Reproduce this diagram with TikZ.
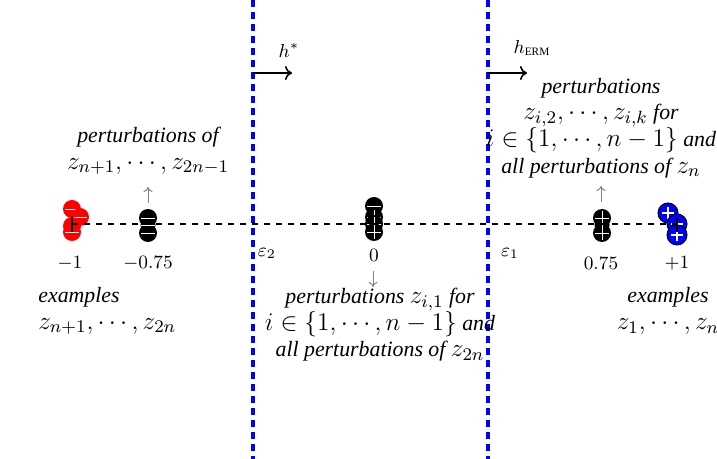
\documentclass[tikz,border=0pt]{standalone}
\usepackage{fix-cm}
\usepackage{fontspec}
\setmainfont{Liberation Serif}[Scale=0.86]
\usetikzlibrary{arrows.meta}
\newcommand\mydotneg[3]{%
  \fill[#3] (#1,#2) circle[radius=9];
  \draw[white,line width=0.45pt] (#1-7,#2) -- (#1+7,#2);}
\newcommand\mydotpos[3]{%
  \fill[#3] (#1,#2) circle[radius=9];
  \draw[white,line width=0.45pt] (#1-7,#2) -- (#1+7,#2) (#1,#2-7) -- (#1,#2+7);}
\newcommand\mydotblue[2]{%
  \filldraw[fill=blue,draw=black,line width=0.5pt] (#1,#2) circle[radius=10];
  \draw[white,line width=1.1pt] (#1-6,#2) -- (#1+6,#2) (#1,#2-6) -- (#1,#2+6);}
\begin{document}
\begin{tikzpicture}[x=0.5pt,y=-0.5pt,
  txt/.style={font=\fontsize{12.7}{13.3}\selectfont\itshape, align=center, inner sep=0pt},
  lbl/.style={font=\fontsize{9.4}{11}\selectfont, inner sep=0pt},
  vline/.style={blue, line width=1.65pt, dash pattern=on 3.5pt off 2.5pt},
  axisline/.style={black, line width=0.6pt, dash pattern=on 3.2pt off 2.8pt},
  garrow/.style={gray, line width=0.5pt, -{To[length=2.5pt,width=4.5pt]}},
  harrow/.style={black, line width=0.8pt, -{To[length=3.5pt,width=7pt]}}]
\useasboundingbox (0,0) rectangle (717,459);
% vertical dashed separators
\coordinate (s2t) at (253,0); \coordinate (s2b) at (253,459);
\coordinate (s1t) at (488,0); \coordinate (s1b) at (488,459);
\draw[vline] (s2t) -- (s2b);
\draw[vline] (s1t) -- (s1b);
% axis points
\coordinate (pm1) at (72,224);
\coordinate (pm075) at (148,224);
\coordinate (p0) at (374,224);
\coordinate (p075) at (602,224);
\coordinate (pp1) at (677,224);
% red cluster at -1
\mydotneg{72}{209}{red}
\mydotneg{80}{217}{red}
\mydotneg{72}{226}{red}
\mydotneg{72}{232}{red}
% black stack at -0.75
\fill (148,225) circle[radius=7.5];
\mydotneg{148}{218}{black}
\mydotneg{148}{233}{black}
\draw[white,line width=0.45pt] (141,225) -- (155,225);
% black stack at 0
\mydotneg{374}{206}{black}
\mydotpos{374}{217}{black}
\mydotpos{374}{224}{black}
\mydotpos{374}{232}{black}
% black stack at 0.75
\fill (602,225) circle[radius=7.5];
\mydotpos{602}{218}{black}
\mydotpos{602}{233}{black}
\draw[white,line width=0.45pt] (602,213) -- (602,240);
% blue cluster at +1
\mydotblue{668}{213}
\mydotblue{677}{224}
\mydotblue{677}{235}
% axis
\draw[axisline] (pm1) -- (pp1);
% ticks at -1 and +1
\draw[line width=1.3pt] (72,216) -- (72,232);
\draw[line width=1.3pt] (677,218) -- (677,232);
% value labels
\node[lbl] (lm1) at (70,263) {$-1$};
\node[lbl] (lm075) at (148,263) {$-0.75$};
\node[lbl] (l0) at (374,255) {$0$};
\node[lbl] (l075) at (601,263) {$0.75$};
\node[lbl] (lp1) at (677,263) {$+1$};
\node[lbl] (e2) at (267,253) {$\varepsilon_2$};
\node[lbl] (e1) at (510,253) {$\varepsilon_1$};
% hypothesis arrows
\coordinate (hs) at (253,73); \coordinate (hse) at (292,73);
\coordinate (he) at (488,73); \coordinate (hee) at (527,73);
\draw[harrow] (hs) -- (hse);
\draw[harrow] (he) -- (hee);
\node[lbl] (hstar) at (289,50) {$h^*$};
\node[lbl] (herm) at (532,48) {$h_{\mathrm{ERM}}$};
% gray arrows
\coordinate (ga1s) at (148,203); \coordinate (ga1e) at (148,187);
\coordinate (ga2s) at (601,202); \coordinate (ga2e) at (601,186);
\coordinate (ga3s) at (373,271); \coordinate (ga3e) at (373,287);
\draw[garrow] (ga1s) -- (ga1e);
\draw[garrow] (ga2s) -- (ga2e);
\draw[garrow] (ga3s) -- (ga3e);
% texts
\node[txt] (tl) at (148,151) {perturbations of\\ $z_{n+1},\cdots,z_{2n-1}$};
\node[txt] (tr) at (601,128) {perturbations\\ $z_{i,2},\cdots,z_{i,k}$ for\\ $i\in\{1,\cdots,n-1\}$ and\\ all perturbations of $z_n$};
\node[txt] (tc) at (380,325) {perturbations $z_{i,1}$ for\\ $i\in\{1,\cdots,n-1\}$ and\\ all perturbations of $z_{2n}$};
\node[txt, align=left, anchor=west] (bl) at (38,311) {examples\\ $z_{n+1},\cdots,z_{2n}$};
\node[txt] (br) at (668,311) {examples\\ $z_1,\cdots,z_n$};
\end{tikzpicture}
\end{document}
